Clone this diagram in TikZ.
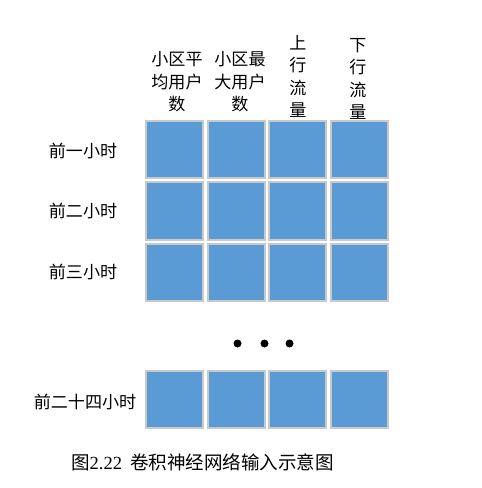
\documentclass[tikz,border=0pt]{standalone}
\usepackage{fontspec}
\setmainfont{Liberation Serif}
\newfontfamily\cjk{Noto Sans CJK SC}
\usepackage{tikz}
\usetikzlibrary{positioning,shadows}

\definecolor{cellblue}{HTML}{5B9BD5}
\definecolor{cellgray}{HTML}{C9C9C9}

\begin{document}
\begin{tikzpicture}[x=0.75pt,y=-0.75pt,
	cell/.style={draw=cellgray, line width=1.5pt, fill=cellblue, minimum size=42.75pt, inner sep=0pt,
		drop shadow={shadow xshift=0.8pt, shadow yshift=-0.8pt, fill=black, opacity=0.18}},
	txt/.style={font=\cjk\fontsize{12.8pt}{16.9pt}\selectfont, align=center, inner sep=0pt}]
			\begingroup
			\useasboundingbox (0,0) rectangle (481,488);
			
			% column headers
			\node[txt] (h1) at (177, 82) {小区平\\均用户\\数};
			\node[txt] (h2) at (240, 82) {小区最\\大用户\\数};
			\node[txt] (h3) at (298, 76.5) {上\\行\\流\\量};
			\node[txt] (h4) at (358, 79) {下\\行\\流\\量};
			
			% row labels
			\node[txt] (r1) at (83, 151) {前一小时};
			\node[txt] (r2) at (83, 211) {前二小时};
			\node[txt] (r3) at (83, 272) {前三小时};
			\node[txt] (r4) at (85, 402) {前二十四小时};
			
			% input cells
			\node[cell] (c11) at (174.5, 149.5) {};
			\node[cell] (c12) at (236, 149.5) {};
			\node[cell] (c13) at (297.5, 149.5) {};
			\node[cell] (c14) at (359, 149.5) {};
			
			\node[cell] (c21) at (174.5, 211) {};
			\node[cell] (c22) at (236, 211) {};
			\node[cell] (c23) at (297.5, 211) {};
			\node[cell] (c24) at (359, 211) {};
			
			\node[cell] (c31) at (174.5, 272.5) {};
			\node[cell] (c32) at (236, 272.5) {};
			\node[cell] (c33) at (297.5, 272.5) {};
			\node[cell] (c34) at (359, 272.5) {};
			
			\node[cell] (c41) at (174.5, 399.5) {};
			\node[cell] (c42) at (236, 399.5) {};
			\node[cell] (c43) at (297.5, 399.5) {};
			\node[cell] (c44) at (359, 399.5) {};
			
			% dots
			\node[circle, fill=black, inner sep=0pt, minimum size=6pt] (d1) at (237.5, 343.5) {};
			\node[circle, fill=black, inner sep=0pt, minimum size=6pt] (d2) at (264.5, 343.5) {};
			\node[circle, fill=black, inner sep=0pt, minimum size=6pt] (d3) at (289.5, 343.5) {};
			
			% caption
			\node[font=\fontsize{13.9pt}{16pt}\selectfont, inner sep=0pt] (cap) at (202.5, 462) {{\cjk 图}2.22\hspace{6pt}{\cjk 卷积神经网络输入示意图}};
			\endgroup
			\end{tikzpicture}
\end{document}
